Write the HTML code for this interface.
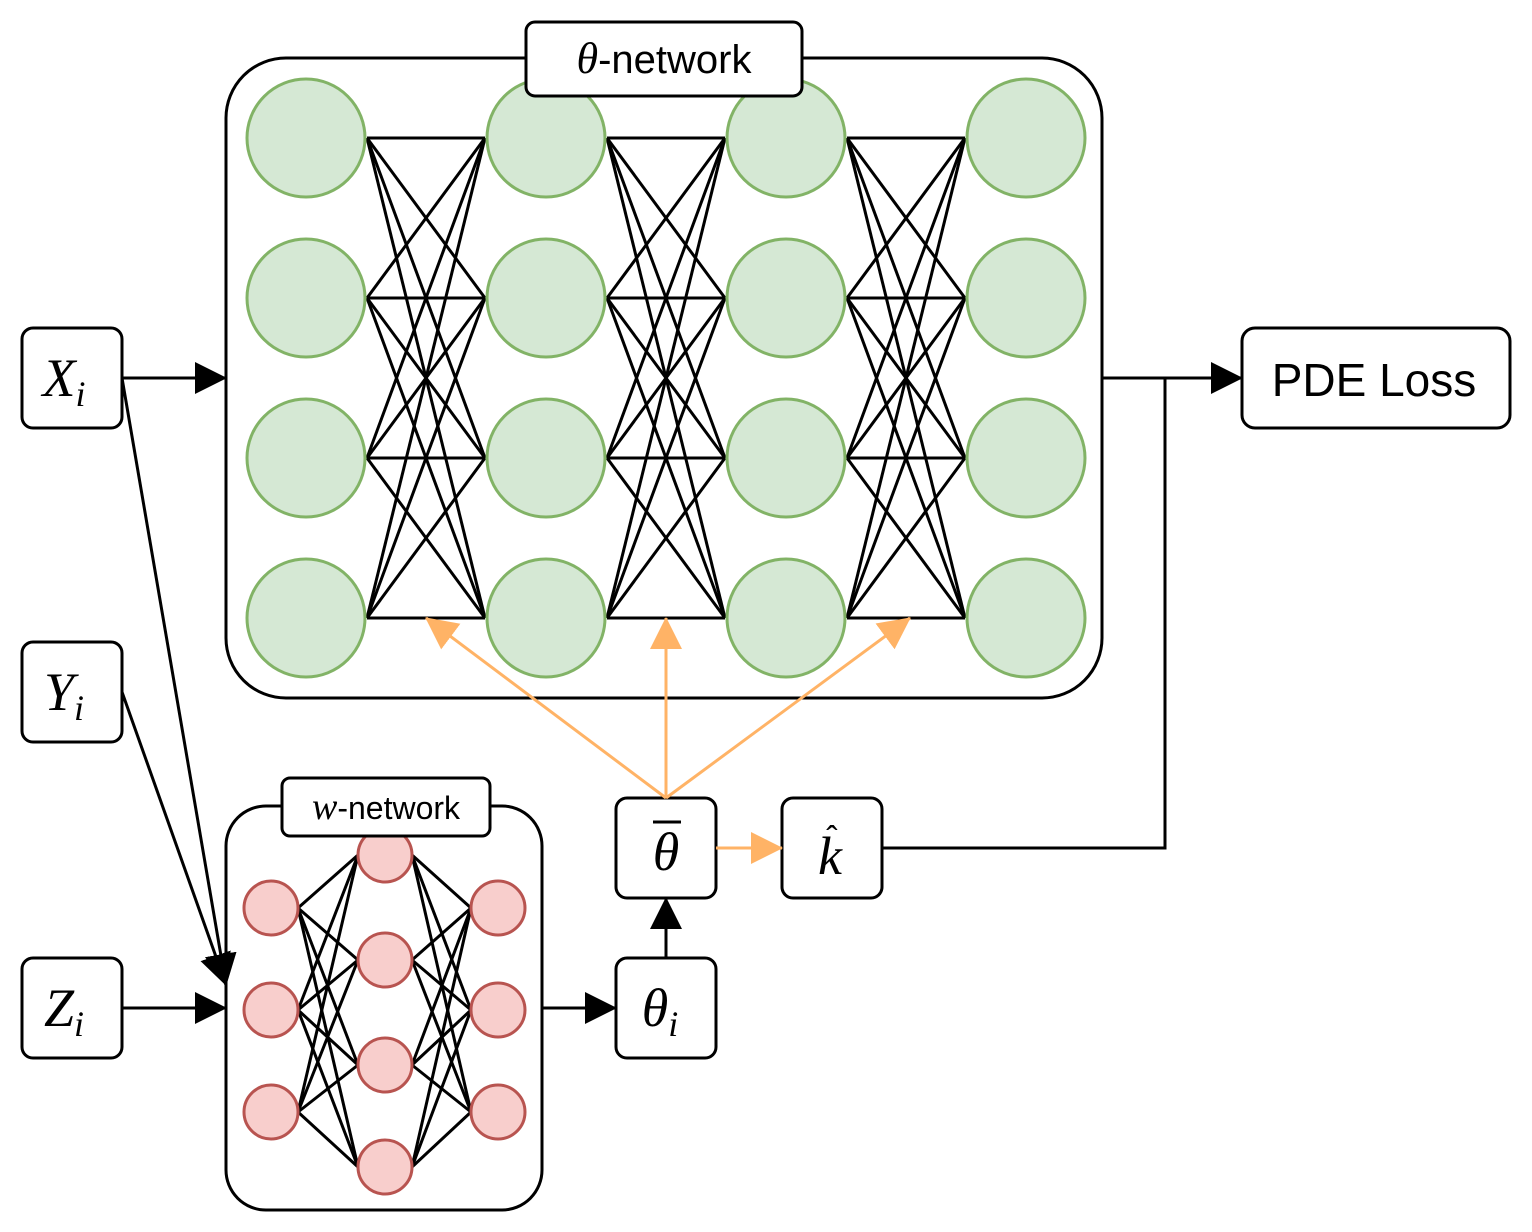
<!DOCTYPE html>
<html><head><style>body{margin:0;background:#fff}svg{display:block}</style></head><body>
<svg width="1532" height="1232" viewBox="0 0 1532 1232" xmlns="http://www.w3.org/2000/svg" font-family="Liberation Sans, sans-serif">
<defs>
<marker id="b" markerWidth="32" markerHeight="32" refX="31" refY="16" orient="auto" markerUnits="userSpaceOnUse" viewBox="0 0 32 32"><path d="M0,0 L32,16 L0,32 z" fill="#000"/></marker>
<marker id="o" markerWidth="32" markerHeight="32" refX="31" refY="16" orient="auto" markerUnits="userSpaceOnUse" viewBox="0 0 32 32"><path d="M0,0 L32,16 L0,32 z" fill="#FFB366"/></marker>
</defs>
<rect x="226" y="58" width="876" height="640" rx="60" fill="#fff" stroke="#000" stroke-width="3"/>
<g stroke="#000" stroke-width="3" id="lines"></g>
<g id="big"></g>
<rect x="526" y="22" width="276" height="74" rx="9" fill="#fff" stroke="#000" stroke-width="3"/>
<text x="664" y="73" font-size="40" text-anchor="middle"><tspan font-family="Liberation Serif, serif" font-style="italic" font-size="44">θ</tspan>-network</text>

<rect x="226" y="806" width="316" height="404" rx="40" fill="#fff" stroke="#000" stroke-width="3"/>
<g id="small"></g>
<rect x="282" y="778" width="208" height="58" rx="8" fill="#fff" stroke="#000" stroke-width="3"/>
<text x="386" y="819" font-size="32" text-anchor="middle"><tspan font-family="Liberation Serif, serif" font-style="italic" font-size="38">w</tspan>-network</text>

<g fill="#fff" stroke="#000" stroke-width="3">
<rect x="22" y="328" width="100" height="100" rx="11"/>
<rect x="22" y="642" width="100" height="100" rx="11"/>
<rect x="22" y="958" width="100" height="100" rx="11"/>
<rect x="1242" y="328" width="268" height="100" rx="13"/>
<rect x="616" y="798" width="100" height="100" rx="11"/>
<rect x="616" y="958" width="100" height="100" rx="11"/>
<rect x="782" y="798" width="100" height="100" rx="11"/>
</g>
<g font-family="Liberation Serif, serif" font-style="italic" font-size="54" text-anchor="middle">
<text x="64" y="396">X<tspan font-size="36" dy="10">i</tspan></text>
<text x="64" y="710">Y<tspan font-size="36" dy="10">i</tspan></text>
<text x="64" y="1026">Z<tspan font-size="36" dy="10">i</tspan></text>
<text x="660" y="1026">θ<tspan font-size="36" dy="10">i</tspan></text>
<text x="666" y="870">θ</text>
<text x="830" y="874">k</text>
</g>
<line x1="653" y1="822" x2="681" y2="822" stroke="#000" stroke-width="3"/>
<text x="832" y="850" font-size="34" text-anchor="middle">ˆ</text>
<text x="1374" y="396" font-size="46" text-anchor="middle">PDE Loss</text>

<g stroke="#000" stroke-width="3" fill="none">
<line x1="122" y1="378" x2="226" y2="378" marker-end="url(#b)"/>
<line x1="122" y1="378" x2="226" y2="985" marker-end="url(#b)"/>
<line x1="122" y1="692" x2="226" y2="985" marker-end="url(#b)"/>
<line x1="122" y1="1008" x2="226" y2="1008" marker-end="url(#b)"/>
<line x1="542" y1="1008" x2="616" y2="1008" marker-end="url(#b)"/>
<line x1="666" y1="958" x2="666" y2="898" marker-end="url(#b)"/>
<line x1="1102" y1="378" x2="1242" y2="378" marker-end="url(#b)"/>
<polyline points="882,848 1165,848 1165,378"/>
</g>
<g stroke="#FFB366" stroke-width="3" fill="none">
<line x1="716" y1="848" x2="782" y2="848" marker-end="url(#o)"/>
<line x1="666" y1="798" x2="426" y2="618" marker-end="url(#o)"/>
<line x1="666" y1="798" x2="666" y2="618" marker-end="url(#o)"/>
<line x1="666" y1="798" x2="910" y2="618" marker-end="url(#o)"/>
</g>
<script>
var ns="http://www.w3.org/2000/svg";
function el(p,t,a){var e=document.createElementNS(ns,t);for(var k in a)e.setAttribute(k,a[k]);p.appendChild(e);return e;}
var L=document.getElementById("lines"),B=document.getElementById("big");
var xs=[306,546,786,1026],ys=[138,298,458,618];
for(var i=0;i<3;i++)for(var a=0;a<4;a++)for(var b=0;b<4;b++)el(L,"line",{x1:xs[i]+61,y1:ys[a],x2:xs[i+1]-61,y2:ys[b]});
xs.forEach(function(x){ys.forEach(function(y){el(B,"circle",{cx:x,cy:y,r:59,fill:"#D5E8D4",stroke:"#82B366","stroke-width":3});});});
var S=document.getElementById("small");
var l=[908,1010,1112],m=[855,960,1065,1167];
l.forEach(function(a){m.forEach(function(b){el(S,"line",{x1:298,y1:a,x2:358,y2:b,stroke:"#000","stroke-width":3});el(S,"line",{x1:412,y1:b,x2:471,y2:a,stroke:"#000","stroke-width":3});});});
l.forEach(function(y){el(S,"circle",{cx:271,cy:y,r:27,fill:"#F8CECC",stroke:"#B85450","stroke-width":3});el(S,"circle",{cx:498,cy:y,r:27,fill:"#F8CECC",stroke:"#B85450","stroke-width":3});});
m.forEach(function(y){el(S,"circle",{cx:385,cy:y,r:27,fill:"#F8CECC",stroke:"#B85450","stroke-width":3});});
</script>
</svg>
</body></html>
